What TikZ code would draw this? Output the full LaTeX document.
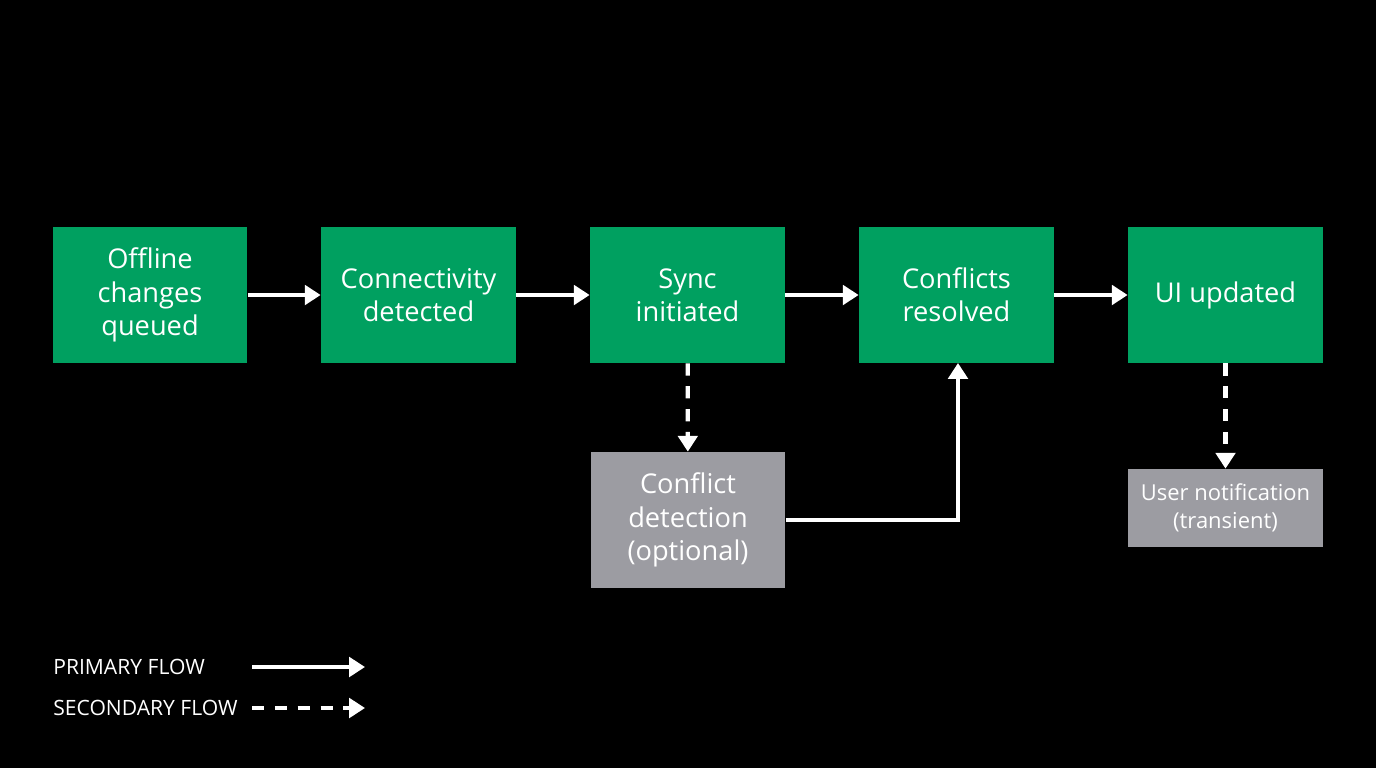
\documentclass[tikz,border=0pt]{standalone}
\usepackage{fontspec}
\setmainfont{Open Sans}
\usetikzlibrary{arrows.meta}
\definecolor{gr}{HTML}{00A060}
\definecolor{gy}{HTML}{9C9CA2}
\begin{document}
\begin{tikzpicture}[x=0.02cm,y=-0.02cm,
  box/.style={fill=gr,text=white,minimum width=3.9cm,minimum height=2.72cm,align=center,font=\fontsize{15.5}{19}\selectfont,inner sep=0},
  gbox/.style={box,fill=gy},
  pf/.style={draw=white,line width=2.4pt,-{Triangle[length=9pt,width=11pt]}},
  sf/.style={pf,dash pattern=on 7pt off 6pt}]
\fill[black] (0,0) rectangle (1376,768);
\node[box] (a) at (150,295) {Offline\\changes\\queued};
\node[box] (b) at (418.5,295) {Connectivity\\detected};
\node[box] (c) at (687.5,295) {Sync\\initiated};
\node[box] (d) at (956.5,295) {Conflicts\\resolved};
\node[box] (e) at (1225.5,295) {UI updated};
\node[gbox] (f) at (688,520) {Conflict\\detection\\(optional)};
\node[gbox,minimum height=1.56cm,font=\fontsize{12.5}{16}\selectfont] (g) at (1225.5,508) {User notification\\(transient)};
\draw[pf] (a) -- (b);
\draw[pf] (b) -- (c);
\draw[pf] (c) -- (d);
\draw[pf] (d) -- (e);
\draw[sf] (c) -- (f);
\draw[sf] (e) -- (g);
\draw[pf] (f.east) -| (958,363);
\node[text=white,anchor=west,font=\fontsize{12}{14}\selectfont,inner sep=0] (l1) at (53,667) {PRIMARY FLOW};
\node[text=white,anchor=west,font=\fontsize{12}{14}\selectfont,inner sep=0] (l2) at (53,708) {SECONDARY FLOW};
\coordinate (p1) at (252,667); \coordinate (p2) at (365,667);
\coordinate (s1) at (252,708); \coordinate (s2) at (365,708);
\draw[pf] (p1) -- (p2);
\draw[sf] (s1) -- (s2);
\end{tikzpicture}
\end{document}
